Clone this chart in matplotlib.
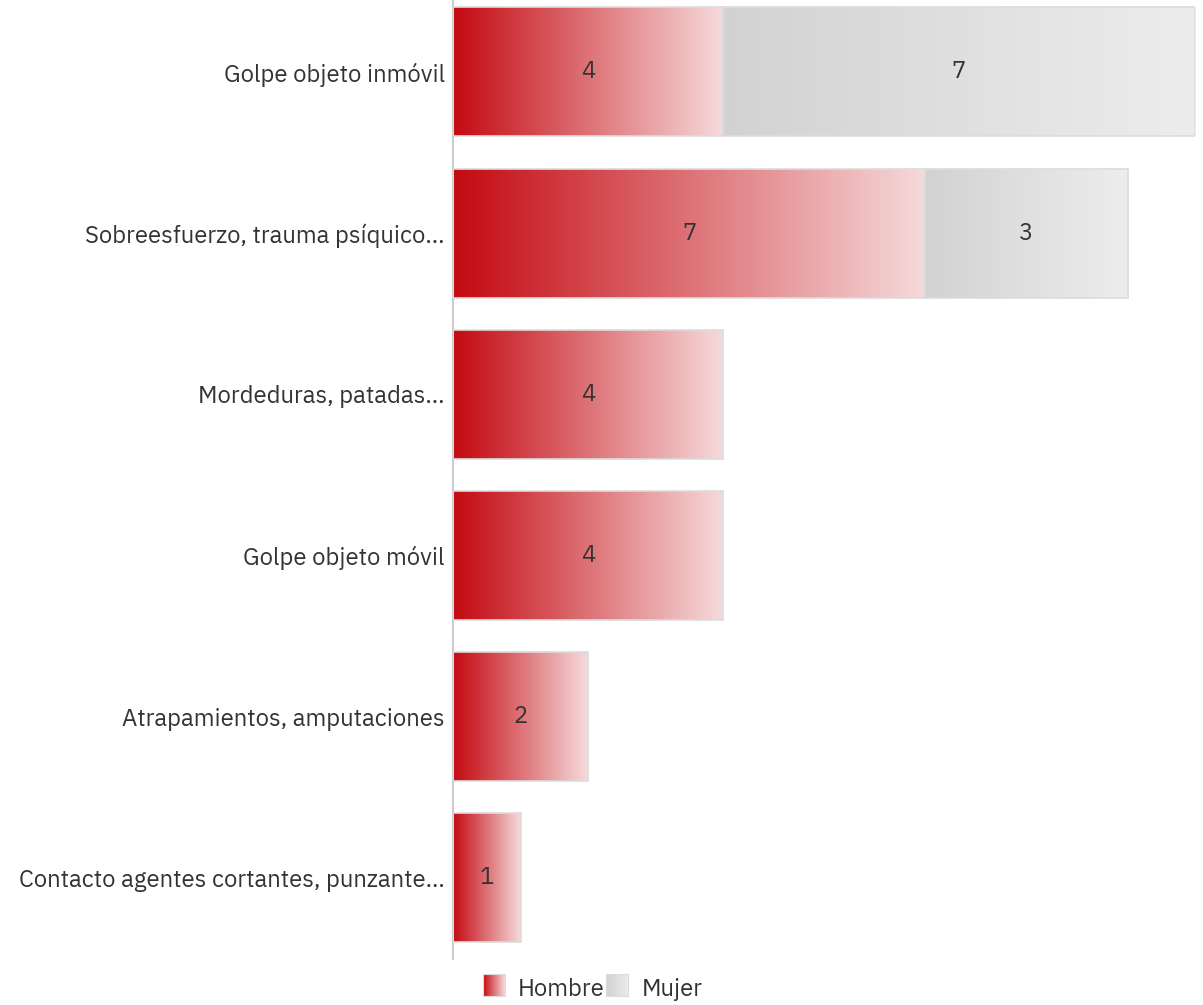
import matplotlib.pyplot as plt
import numpy as np
from matplotlib.colors import LinearSegmentedColormap
from matplotlib.patches import Rectangle

# data
categories = ['Golpe objeto inmóvil', 'Sobreesfuerzo, trauma psíquico...', 'Mordeduras, patadas...',
              'Golpe objeto móvil', 'Atrapamientos, amputaciones', 'Contacto agentes cortantes, punzante...']
hombre = [4, 7, 4, 4, 2, 1]
mujer = [7, 3, 0, 0, 0, 0]
series_names = ['Hombre', 'Mujer']

plt.rcParams['font.family'] = ['IBM Plex Sans', 'Noto Sans', 'DejaVu Sans']
txt_color = '#333333'
fs = 17.2

red_cmap = LinearSegmentedColormap.from_list('red', ['#c40a12', '#f6dadb'])
grey_cmap = LinearSegmentedColormap.from_list('grey', ['#d2d2d2', '#eeeded'])
grad = np.linspace(0, 1, 256).reshape(1, -1)

fig = plt.figure(figsize=(12.03, 10.05), dpi=100)
ax = fig.add_axes([0.3766, 0.0462, 0.6168, 0.9624])

bar_h = 0.8
y_pos = np.arange(len(categories))


def grad_bar(x0, w, y, cmap):
    if w <= 0:
        return
    ax.imshow(grad, cmap=cmap, aspect='auto', interpolation='bilinear',
              extent=(x0, x0 + w, y + bar_h / 2, y - bar_h / 2), zorder=2)
    ax.add_patch(Rectangle((x0, y - bar_h / 2), w, bar_h, fill=False,
                           edgecolor='#dcdcdc', lw=1.2, zorder=3))
    ax.text(x0 + w / 2, y, str(w), ha='center', va='center', fontsize=fs,
            color=txt_color, zorder=4)


for i, y in enumerate(y_pos):
    grad_bar(0, hombre[i], y, red_cmap)
    grad_bar(hombre[i], mujer[i], y, grey_cmap)

total_max = max(h + m for h, m in zip(hombre, mujer))
ax.set_xlim(0, total_max)
ax.set_ylim(len(categories) - 0.5, -0.5)
ax.set_yticks(y_pos)
ax.set_yticklabels(categories, fontsize=fs, color=txt_color)
ax.set_xticks([])
ax.tick_params(axis='y', length=0, pad=6)
for s in ['top', 'right', 'bottom']:
    ax.spines[s].set_visible(False)
ax.spines['left'].set_color('#cccccc')
ax.spines['left'].set_linewidth(1.5)

# legend
W, H = 1203, 1005
for name, cmap, sx, tx in [(series_names[0], red_cmap, 483, 518), (series_names[1], grey_cmap, 606, 642)]:
    lax = fig.add_axes([sx / W, 1 - 996 / H, 22 / W, 22 / H])
    lax.imshow(grad, cmap=cmap, aspect='auto', interpolation='bilinear')
    for s in lax.spines.values():
        s.set_color('#dcdcdc')
    lax.set_xticks([])
    lax.set_yticks([])
    fig.text(tx / W, 1 - 989 / H, name, ha='left', va='center', fontsize=fs, color=txt_color)

fig.savefig('out.png', dpi=100)
